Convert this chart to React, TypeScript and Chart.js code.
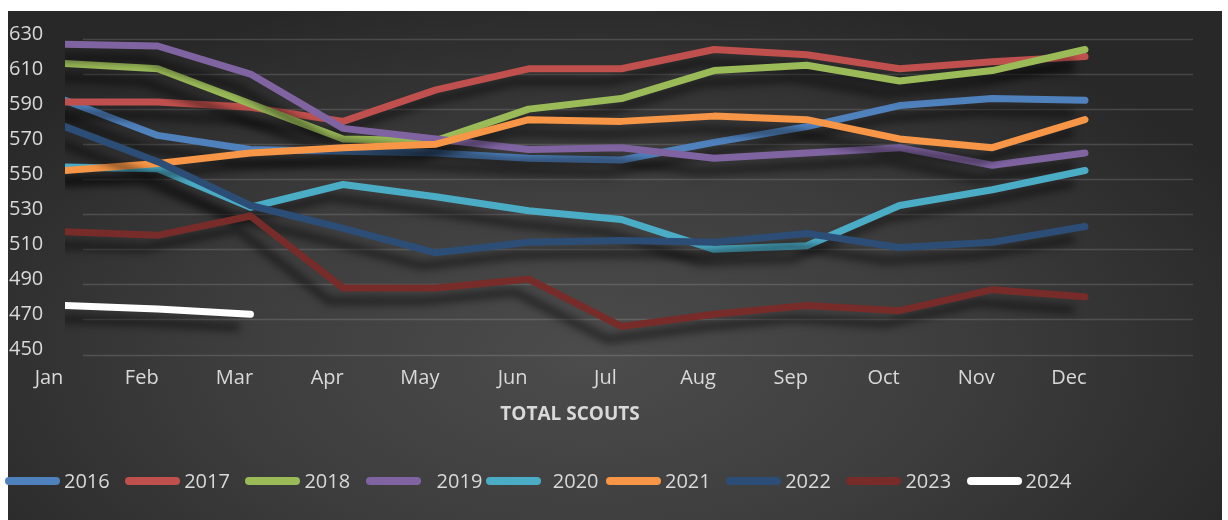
import React, { useEffect, useRef } from "react";
import { Chart, registerables } from "chart.js";

Chart.register(...registerables);

const months = ["Jan", "Feb", "Mar", "Apr", "May", "Jun", "Jul", "Aug", "Sep", "Oct", "Nov", "Dec"];
const yTicksMin = 450;
const yTicksMax = 630;
const yStep = 20;

const years = ["2016", "2017", "2018", "2019", "2020", "2021", "2022", "2023", "2024"];
const s2016 = [595, 575, 567, 566, 565, 562, 561, 571, 580, 592, 596, 595];
const s2017 = [594, 594, 591, 583, 601, 613, 613, 624, 621, 613, 617, 620];
const s2018 = [616, 613, 593, 573, 572, 590, 596, 612, 615, 606, 612, 624];
const s2019 = [627, 626, 610, 579, 573, 567, 568, 562, 565, 568, 558, 565];
const s2020 = [557, 556, 534, 547, 540, 532, 527, 510, 512, 535, 544, 555];
const s2021 = [555, 559, 565, 568, 570, 584, 583, 586, 584, 573, 568, 584];
const s2022 = [580, 560, 535, 522, 508, 514, 515, 514, 519, 511, 514, 523];
const s2023 = [520, 518, 529, 488, 488, 493, 466, 473, 478, 475, 487, 483];
const s2024 = [478, 476, 473];
const seriesValues = [s2016, s2017, s2018, s2019, s2020, s2021, s2022, s2023, s2024];
const colors = ["#4F81BD", "#C0504D", "#9BBB59", "#8064A2", "#4BACC6", "#F79646", "#2C4D75", "#772C2A", "#FFFFFF"];

const TEXT = "#d9d9d9";
const FONT = "'Open Sans', 'Noto Sans', sans-serif";

const gridPlugin = {
  id: "customGrid",
  beforeDatasetsDraw(chart: any) {
    const { ctx, chartArea } = chart;
    const y = chart.scales.y;
    ctx.save();
    ctx.strokeStyle = "rgba(255,255,255,0.14)";
    ctx.lineWidth = 1.6;
    for (let v = yTicksMin; v <= yTicksMax; v += yStep) {
      const py = Math.round(y.getPixelForValue(v)) + 0.5;
      ctx.beginPath();
      ctx.moveTo(chartArea.left + 18, py);
      ctx.lineTo(chartArea.right, py);
      ctx.stroke();
    }
    ctx.restore();
  },
};

const shadowPlugin = {
  id: "lineShadow",
  beforeDatasetDraw(chart: any) {
    const ctx = chart.ctx;
    ctx.save();
    ctx.shadowColor = "rgba(0,0,0,0.55)";
    ctx.shadowBlur = 9;
    ctx.shadowOffsetX = -14;
    ctx.shadowOffsetY = 13;
  },
  afterDatasetDraw(chart: any) {
    chart.ctx.restore();
  },
};

export default function App() {
  const canvasRef = useRef<HTMLCanvasElement | null>(null);

  useEffect(() => {
    if (!canvasRef.current) return;
    const n = years.length;
    const chart = new Chart(canvasRef.current, {
      type: "line",
      data: {
        datasets: years.map((yr, i) => ({
          label: yr,
          data: seriesValues[i].map((v, k) => ({ x: k, y: v })),
          borderColor: colors[i],
          backgroundColor: colors[i],
          borderWidth: 7,
          borderCapStyle: "round",
          borderJoinStyle: "round",
          pointRadius: 0,
          tension: 0,
          fill: false,
          order: n - i,
        })),
      },
      options: {
        animation: false,
        responsive: true,
        maintainAspectRatio: false,
        layout: { padding: { left: 1, top: 28, right: 29, bottom: 105.5 } },
        plugins: { legend: { display: false }, tooltip: { enabled: false }, title: { display: false } },
        scales: {
          x: {
            type: "linear",
            min: 0,
            max: 12.165,
            grid: { display: false, drawTicks: false },
            border: { display: false },
            afterFit: (s: any) => {
              s.height = 60;
            },
            ticks: {
              stepSize: 1,
              includeBounds: false,
              autoSkip: false,
              maxRotation: 0,
              padding: 11.5,
              labelOffset: -16,
              color: TEXT,
              font: { family: FONT, size: 20 },
              callback: (v: any) => (Number.isInteger(v) && months[v] ? months[v] : ""),
            },
          },
          y: {
            min: yTicksMin,
            max: yTicksMax,
            grid: { display: false, drawTicks: false },
            border: { display: false },
            afterFit: (s: any) => {
              s.width = 56;
            },
            ticks: {
              stepSize: yStep,
              crossAlign: "far",
              padding: 0,
              labelOffset: -5,
              color: TEXT,
              font: { family: FONT, size: 20 },
            },
          },
        },
      },
      plugins: [gridPlugin, shadowPlugin],
    } as any);
    return () => chart.destroy();
  }, []);

  const legendTextGap = [4, 4, 4, 16, 12, 4, 4, 4, 4];

  return (
    <div>
      <div
        style={{
          position: "fixed",
          left: 8,
          top: 11,
          width: 1214,
          height: 509,
          background: "radial-gradient(ellipse 60% 75% at 48% 68%, #4c4c4c 0%, #3d3d3d 50%, #282828 100%)",
        }}
      >
        <canvas ref={canvasRef} />
      </div>
      <div
        style={{
          position: "fixed",
          left: 570,
          top: 399,
          transform: "translateX(-50%)",
          color: TEXT,
          fontFamily: FONT,
          fontWeight: 700,
          fontSize: 19,
          lineHeight: "28px",
          whiteSpace: "nowrap",
        }}
      >
        TOTAL SCOUTS
      </div>
      {years.map((yr, i) => (
        <div
          key={yr}
          style={{
            position: "fixed",
            left: 5 + i * 120.2,
            top: 467,
            height: 28,
            display: "flex",
            alignItems: "center",
            whiteSpace: "nowrap",
          }}
        >
          <div style={{ width: 55, height: 8, borderRadius: 4, background: colors[i] }} />
          <div
            style={{
              marginLeft: legendTextGap[i],
              color: TEXT,
              fontFamily: FONT,
              fontSize: 20,
              lineHeight: "28px",
            }}
          >
            {yr}
          </div>
        </div>
      ))}
    </div>
  );
}
